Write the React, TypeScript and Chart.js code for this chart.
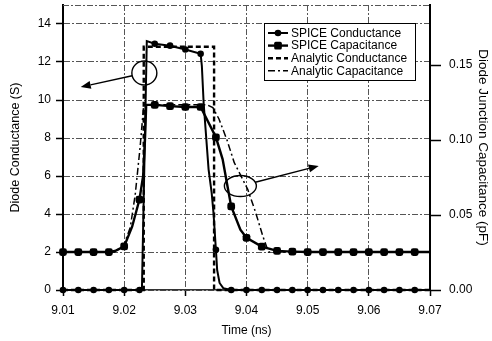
import React, { useEffect, useRef } from 'react';
import { Chart, registerables } from 'chart.js';

Chart.register(...registerables);

// ---------- tick values ----------
const timeTicks = [9.01, 9.02, 9.03, 9.04, 9.05, 9.06, 9.07];
const conductanceTicks = [0, 2, 4, 6, 8, 10, 12, 14];
const capacitanceTicks = [0, 0.05, 0.1, 0.15];

// SPICE output sample instants (where the markers sit)
const sampleTimes = [
  9.01, 9.0125, 9.015, 9.0175, 9.02, 9.0225, 9.025, 9.0275, 9.03, 9.0325, 9.035, 9.0375,
  9.04, 9.0425, 9.045, 9.0475, 9.05, 9.0525, 9.055, 9.0575, 9.06, 9.0625, 9.065, 9.0675,
];

// ---------- series ----------
const spiceCondTime = [
  9.01, 9.0125, 9.015, 9.0175, 9.02, 9.0225, 9.0229, 9.0237, 9.025, 9.0275, 9.03, 9.0325,
  9.0327, 9.033, 9.0338, 9.0343, 9.0346, 9.035, 9.0352, 9.0356, 9.0362, 9.0375, 9.04, 9.0425,
  9.045, 9.0475, 9.05, 9.0525, 9.055, 9.0575, 9.06, 9.0625, 9.065, 9.0675, 9.07,
];
const spiceCondS = [
  0, 0, 0, 0, 0, 0, 0, 13.1, 12.96, 12.86, 12.66, 12.43,
  11.8, 9.8, 6.35, 5.13, 4.07, 2.12, 1.06, 0.37, 0.1, 0, 0, 0,
  0, 0, 0, 0, 0, 0, 0, 0, 0, 0, 0,
];

const spiceCapTime = [
  9.01, 9.0125, 9.015, 9.0175, 9.0185, 9.02, 9.0213, 9.0225, 9.0231, 9.0234, 9.0236, 9.025,
  9.0275, 9.03, 9.0325, 9.035, 9.0361, 9.0369, 9.0375, 9.039, 9.04, 9.0425, 9.045, 9.0475,
  9.05, 9.0525, 9.055, 9.0575, 9.06, 9.0625, 9.065, 9.0675, 9.07,
];
const spiceCapPF = [
  0.0253, 0.0253, 0.0253, 0.0253, 0.026, 0.0291, 0.0422, 0.0603, 0.076, 0.1001, 0.1234, 0.1234,
  0.1226, 0.122, 0.122, 0.1018, 0.0871, 0.069, 0.0557, 0.0402, 0.0348, 0.0289, 0.0261, 0.0256,
  0.0253, 0.0253, 0.0253, 0.0253, 0.0253, 0.0253, 0.0253, 0.0253, 0.0253,
];

const anaCondTime = [9.01, 9.0232, 9.0232, 9.0347, 9.0347, 9.07];
const anaCondS = [0, 0, 12.8, 12.8, 0, 0];

const anaCapTime = [
  9.01, 9.0185, 9.02, 9.021, 9.0218, 9.0226, 9.0232, 9.0335, 9.0345, 9.0355, 9.0368, 9.038,
  9.0402, 9.0415, 9.0427, 9.0436, 9.07,
];
const anaCapPF = [
  0.0253, 0.0253, 0.0304, 0.0418, 0.0633, 0.095, 0.1235, 0.1235, 0.1216, 0.114, 0.1001, 0.0849,
  0.0671, 0.0516, 0.0355, 0.0253, 0.0253,
];

const seriesNames = ['SPICE Conductance', 'SPICE Capacitance', 'Analytic Conductance', 'Analytic Capacitance'];

// callouts in data units (time, conductance axis)
const callouts = [
  { center: [9.0233, 11.42], tip: [9.0129, 10.68], rx: 12.5, ry: 12 },
  { center: [9.039, 5.47], tip: [9.0518, 6.53], rx: 16, ry: 10.5 },
];

const FONT = '"Liberation Sans", Arial, Helvetica, sans-serif';

type Style = { width: number; dash: number[]; marker: string | null; r: number };
const seriesStyles: Style[] = [
  { width: 2, dash: [], marker: 'circle', r: 3.3 },
  { width: 2.4, dash: [], marker: 'rectRounded', r: 4.5 },
  { width: 2.4, dash: [5, 3], marker: null, r: 0 },
  { width: 1.5, dash: [7, 3, 2, 3], marker: null, r: 0 },
];

const isSample = (t: number) => sampleTimes.some((s) => Math.abs(s - t) < 1e-7);

function drawLegendMarker(ctx: CanvasRenderingContext2D, kind: string, x: number, y: number, r: number) {
  ctx.beginPath();
  if (kind === 'circle') {
    ctx.arc(x, y, r, 0, Math.PI * 2);
  } else {
    const s = r * 0.85;
    (ctx as any).roundRect(x - s, y - s, 2 * s, 2 * s, 1.5);
  }
  ctx.fill();
}

const overlayPlugin = {
  id: 'overlay',
  beforeDatasetsDraw(chart: any) {
    const { ctx, chartArea: a } = chart;
    ctx.save();
    ctx.strokeStyle = '#555';
    ctx.lineWidth = 1;
    ctx.setLineDash([6, 2, 2, 2]);
    ctx.beginPath();
    ctx.moveTo(a.left, a.top + 0.5);
    ctx.lineTo(a.right, a.top + 0.5);
    ctx.stroke();
    ctx.restore();
  },
  afterDraw(chart: any) {
    const { ctx, chartArea: a, scales } = chart;
    const xs = scales.x;
    const ys = scales.y;
    ctx.save();
    ctx.strokeStyle = '#000';
    ctx.fillStyle = '#000';
    ctx.lineWidth = 1.4;
    ctx.setLineDash([]);
    for (const c of callouts) {
      const cx = xs.getPixelForValue(c.center[0]);
      const cy = ys.getPixelForValue(c.center[1]);
      const tx = xs.getPixelForValue(c.tip[0]);
      const ty = ys.getPixelForValue(c.tip[1]);
      ctx.beginPath();
      ctx.ellipse(cx, cy, c.rx, c.ry, 0, 0, Math.PI * 2);
      ctx.stroke();
      const dx = tx - cx;
      const dy = ty - cy;
      const len = Math.hypot(dx, dy);
      const ux = dx / len;
      const uy = dy / len;
      const s = 1 / Math.sqrt((ux / c.rx) ** 2 + (uy / c.ry) ** 2);
      const sx = cx + ux * s;
      const sy = cy + uy * s;
      const head = 10;
      const hw = 4;
      const bx = tx - ux * head;
      const by = ty - uy * head;
      ctx.beginPath();
      ctx.moveTo(sx, sy);
      ctx.lineTo(bx, by);
      ctx.stroke();
      ctx.beginPath();
      ctx.moveTo(tx, ty);
      ctx.lineTo(bx - uy * hw, by + ux * hw);
      ctx.lineTo(bx + uy * hw, by - ux * hw);
      ctx.closePath();
      ctx.fill();
    }

    // legend
    const bw = 151;
    const bh = 57;
    const bx0 = Math.round(a.right - 166);
    const by0 = Math.round(a.top + 18);
    ctx.fillStyle = '#fff';
    ctx.fillRect(bx0, by0, bw, bh);
    ctx.strokeStyle = '#000';
    ctx.lineWidth = 1;
    ctx.strokeRect(bx0 + 0.5, by0 + 0.5, bw, bh);
    ctx.font = '12px ' + FONT;
    ctx.textBaseline = 'middle';
    ctx.textAlign = 'left';
    seriesNames.forEach((name, i) => {
      const st = seriesStyles[i];
      const y = by0 + 10 + i * 12.6;
      ctx.strokeStyle = '#000';
      ctx.fillStyle = '#000';
      ctx.lineWidth = st.width;
      ctx.setLineDash(st.dash);
      ctx.beginPath();
      ctx.moveTo(bx0 + 4, y);
      ctx.lineTo(bx0 + 24, y);
      ctx.stroke();
      ctx.setLineDash([]);
      if (st.marker) drawLegendMarker(ctx, st.marker, bx0 + 14, y, st.marker === 'circle' ? st.r : 4.5);
      ctx.fillText(name, bx0 + 27, y + 0.5);
    });
    ctx.restore();
  },
};

function makeDataset(label: string, times: number[], values: number[], axis: string, st: Style) {
  return {
    label,
    data: times.map((x, i) => ({ x, y: values[i] })),
    yAxisID: axis,
    borderColor: '#000',
    backgroundColor: '#000',
    borderWidth: st.width,
    borderDash: st.dash,
    pointStyle: st.marker || 'circle',
    pointRadius: (ctx: any) => (st.marker && ctx.raw && isSample(ctx.raw.x) ? st.r : 0),
    pointHoverRadius: 0,
    pointBackgroundColor: '#000',
    pointBorderColor: '#000',
    pointBorderWidth: 0,
    tension: 0,
    fill: false,
    clip: false as any,
  };
}

export default function App() {
  const canvasRef = useRef<HTMLCanvasElement | null>(null);

  useEffect(() => {
    if (!canvasRef.current) return;
    const gridColor = '#555';
    const gridDash = [6, 2, 2, 2];
    const chart = new Chart(canvasRef.current, {
      type: 'line',
      data: {
        datasets: [
          makeDataset(seriesNames[0], spiceCondTime, spiceCondS, 'y', seriesStyles[0]),
          makeDataset(seriesNames[1], spiceCapTime, spiceCapPF, 'y1', seriesStyles[1]),
          makeDataset(seriesNames[2], anaCondTime, anaCondS, 'y', seriesStyles[2]),
          makeDataset(seriesNames[3], anaCapTime, anaCapPF, 'y1', seriesStyles[3]),
        ] as any,
      },
      options: {
        responsive: false,
        animation: false,
        devicePixelRatio: 1,
        layout: { padding: { top: 5, left: 0, right: 0, bottom: 0 } },
        plugins: { legend: { display: false }, tooltip: { enabled: false } },
        scales: {
          x: {
            type: 'linear',
            min: 9.01,
            max: 9.07,
            afterBuildTicks: (axis: any) => {
              axis.ticks = timeTicks.map((value) => ({ value }));
            },
            afterFit: (s: any) => {
              s.height = 51;
              s.paddingLeft = 0;
              s.paddingRight = 0;
            },
            ticks: {
              callback: (v: any) => Number(v).toFixed(2),
              color: '#000',
              font: { family: FONT, size: 12 },
              padding: 7,
              maxRotation: 0,
              autoSkip: false,
            },
            grid: {
              color: gridColor,
              lineWidth: 1,
              tickLength: 6,
              tickColor: '#000',
              tickWidth: 1.5,
            },
            border: { display: true, color: '#333', width: 1.5, dash: gridDash },
            title: {
              display: true,
              text: 'Time (ns)',
              color: '#000',
              font: { family: FONT, size: 12 },
              padding: { top: 0, bottom: 3 },
            },
          },
          y: {
            type: 'linear',
            position: 'left',
            min: 0,
            max: 15,
            afterBuildTicks: (axis: any) => {
              axis.ticks = conductanceTicks.map((value) => ({ value }));
            },
            afterFit: (s: any) => {
              s.width = 63;
              s.paddingTop = 0;
              s.paddingBottom = 0;
            },
            ticks: {
              callback: (v: any) => String(v),
              color: '#000',
              font: { family: FONT, size: 12 },
              padding: 5,
            },
            grid: {
              color: gridColor,
              lineWidth: 1,
              tickLength: 7,
              tickColor: '#000',
              tickWidth: 1.5,
            },
            border: { display: true, color: '#000', width: 2, dash: gridDash },
            title: {
              display: true,
              text: 'Diode Conductance (S)',
              color: '#000',
              font: { family: FONT, size: 12.5 },
              padding: { top: 8, bottom: 0 },
            },
          },
          y1: {
            type: 'linear',
            position: 'right',
            min: 0,
            max: 0.19,
            afterBuildTicks: (axis: any) => {
              axis.ticks = capacitanceTicks.map((value) => ({ value }));
            },
            afterFit: (s: any) => {
              s.width = 62;
              s.paddingTop = 0;
              s.paddingBottom = 0;
            },
            ticks: {
              callback: (v: any) => Number(v).toFixed(2),
              color: '#000',
              font: { family: FONT, size: 12 },
              padding: 8,
            },
            grid: {
              drawOnChartArea: false,
              tickLength: 11,
              tickColor: '#000',
              tickWidth: 1.5,
            },
            border: { display: true, color: '#000', width: 2 },
            title: {
              display: true,
              text: 'Diode Junction Capacitance (pF)',
              color: '#000',
              font: { family: FONT, size: 13.5 },
              padding: { top: 1, bottom: 0 },
            },
          },
        },
      } as any,
      plugins: [overlayPlugin as any],
    });
    return () => chart.destroy();
  }, []);

  return (
    <div style={{ position: 'fixed', left: 0, top: 0, width: 492, height: 341, background: '#fff' }}>
      <canvas ref={canvasRef} width={492} height={341} style={{ display: 'block', width: 492, height: 341 }} />
    </div>
  );
}
